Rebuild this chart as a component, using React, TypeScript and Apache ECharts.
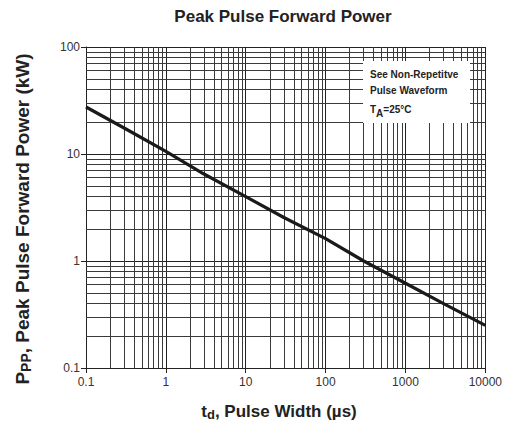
import React, { useEffect, useRef } from "react";
import * as echarts from "echarts";

const pulseWidth = [0.1, 0.3, 1, 3, 10, 30, 100, 300, 1000, 3000, 10000];
const peakPower = [27.5, 17.5, 10.6, 6.5, 4.0, 2.55, 1.62, 1.0, 0.62, 0.4, 0.25];
const xTickLabels = ["0.1", "1", "10", "100", "1000", "10000"];
const yTickLabels = ["0.1", "1", "10", "100"];
const noteLines = ["See Non-Repetitve", "Pulse Waveform"];

const FONT = "Liberation Sans, Arial, Helvetica, sans-serif";

function minorValues(minExp: number, maxExp: number): number[] {
  const out: number[] = [];
  for (let e = minExp; e < maxExp; e++) {
    for (let m = 2; m <= 9; m++) out.push(parseFloat((m * Math.pow(10, e)).toPrecision(3)));
  }
  return out;
}

export default function App() {
  const ref = useRef<HTMLDivElement>(null);
  useEffect(() => {
    document.body.style.margin = "0";
    if (!ref.current) return;
    const chart = echarts.init(ref.current, undefined, { renderer: "svg" });
    const xMinor = minorValues(-1, 4);
    const yMinor = minorValues(-1, 2);
    const gridColor = "#3a3a3a";
    chart.setOption({
      animation: false,
      backgroundColor: "#ffffff",
      grid: { left: 86, right: 19, top: 47, bottom: 60 },
      xAxis: {
        type: "log",
        logBase: 10,
        min: 0.1,
        max: 10000,
        axisLine: { show: true, lineStyle: { color: "#222", width: 1 } },
        axisTick: { show: true, length: 5, lineStyle: { color: "#222" } },
        axisLabel: {
          fontFamily: FONT,
          fontSize: 12,
          color: "#333",
          margin: 8,
          formatter: (v: number) => xTickLabels[Math.round(Math.log10(v)) + 1] ?? "",
        },
        splitLine: { show: true, lineStyle: { color: "#222", width: 1 } },
      },
      yAxis: {
        type: "log",
        logBase: 10,
        min: 0.1,
        max: 100,
        axisLine: { show: true, lineStyle: { color: "#222", width: 1 } },
        axisTick: { show: true, length: 5, lineStyle: { color: "#222" } },
        axisLabel: {
          fontFamily: FONT,
          fontSize: 12,
          color: "#333",
          margin: 6,
          formatter: (v: number) => yTickLabels[Math.round(Math.log10(v)) + 1] ?? "",
        },
        splitLine: { show: true, lineStyle: { color: "#222", width: 1 } },
      },
      series: [
        {
          type: "line",
          data: pulseWidth.map((x, i) => [x, peakPower[i]]),
          smooth: false,
          showSymbol: false,
          lineStyle: { color: "#1a1a1a", width: 3.2, join: "round" },
          z: 5,
          markLine: {
            silent: true,
            symbol: ["none", "none"],
            label: { show: false },
            lineStyle: { type: "solid", color: gridColor, width: 1 },
            emphasis: { disabled: true },
            data: [
              ...xMinor.map((v) => ({ xAxis: v })),
              ...yMinor.map((v) => ({ yAxis: v })),
            ],
          },
        },
      ],
      graphic: [
        {
          type: "text",
          z: 101,
          x: 283,
          y: 16,
          style: {
            text: "Peak Pulse Forward Power",
            font: `bold 17px ${FONT}`,
            fill: "#222",
            align: "center",
            verticalAlign: "middle",
          },
        },
        {
          type: "text",
          z: 101,
          x: 279,
          y: 411,
          style: {
            text: "{a|t}{s|d}{a|, Pulse Width (µs)}",
            align: "center",
            verticalAlign: "middle",
            rich: {
              a: { fontFamily: FONT, fontSize: 17, fontWeight: "bold", fill: "#222", lineHeight: 20 },
              s: { fontFamily: FONT, fontSize: 13, fontWeight: "bold", fill: "#222", verticalAlign: "bottom", lineHeight: 20, padding: [8, 0, 0, 0] },
            },
          },
        },
        {
          type: "text",
          z: 101,
          x: 22,
          y: 219,
          rotation: Math.PI / 2,
          style: {
            text: "{a|P}{s|PP}{a|, Peak Pulse Forward Power (kW)}",
            align: "center",
            verticalAlign: "middle",
            rich: {
              a: { fontFamily: FONT, fontSize: 19, fontWeight: "bold", fill: "#222", lineHeight: 22 },
              s: { fontFamily: FONT, fontSize: 14, fontWeight: "bold", fill: "#222", verticalAlign: "bottom", lineHeight: 22, padding: [9, 0, 0, 0] },
            },
          },
        },
        {
          type: "rect",
          z: 100,
          shape: { x: 363, y: 61, width: 107, height: 62 },
          style: { fill: "#ffffff" },
        },
        {
          type: "text",
          z: 101,
          x: 370,
          y: 69,
          style: { text: noteLines[0], font: `bold 10px ${FONT}`, fill: "#222" },
        },
        {
          type: "text",
          z: 101,
          x: 370,
          y: 85,
          style: { text: noteLines[1], font: `bold 10px ${FONT}`, fill: "#222" },
        },
        {
          type: "text",
          z: 101,
          x: 370,
          y: 101,
          style: {
            text: "{a|T}{s|A}{a|=25°C}",
            rich: {
              a: { fontFamily: FONT, fontSize: 10, fontWeight: "bold", fill: "#222" },
              s: { fontFamily: FONT, fontSize: 10, fontWeight: "bold", fill: "#222", padding: [7, 0, 0, 0] },
            },
          },
        },
      ],
    });
    return () => chart.dispose();
  }, []);
  return <div ref={ref} style={{ width: 505, height: 428 }} />;
}
